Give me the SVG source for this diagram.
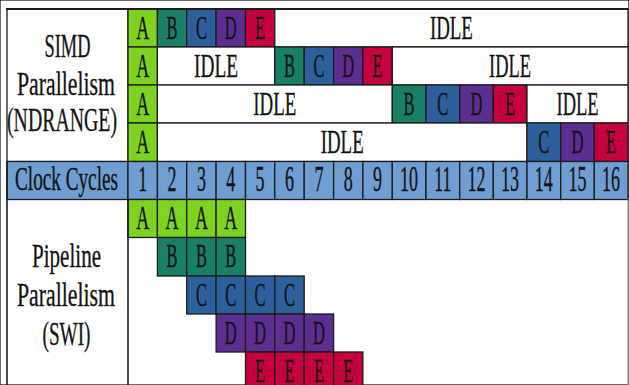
<svg xmlns="http://www.w3.org/2000/svg" width="629" height="385" viewBox="0 0 629 385">
<style>
rect{stroke:#1c1c1c;stroke-width:1.3}
.w{fill:#ffffff}
.a{fill:#7ED321}
.b{fill:#178067}
.c{fill:#2C5F9C}
.d{fill:#5C2E91}
.e{fill:#C6003E}
.k{fill:#6F9ED2}
text{font-family:"Liberation Serif","Times New Roman",serif;font-size:33px;fill:#141414;stroke:#141414;stroke-width:0.35;text-anchor:middle}
.n{font-size:35px}
.ln{stroke:#1c1c1c;stroke-width:1.6;fill:none}
</style>
<rect x="0" y="0" width="629" height="385" fill="#ffffff" stroke="none"/>

<!-- Left label cells -->
<g id="simd-label">
<rect class="w" x="7" y="9" width="121" height="152.5"/>
<text x="67.5" y="57" textLength="46" lengthAdjust="spacingAndGlyphs">SIMD</text>
<text x="66" y="94.5" textLength="98" lengthAdjust="spacingAndGlyphs">Parallelism</text>
<text x="62" y="130.5" textLength="110" lengthAdjust="spacingAndGlyphs">(NDRANGE)</text>
</g>

<!-- SIMD row 1 -->
<g id="r1">
<g id="r1-a"><rect class="a" x="128" y="9" width="29.4" height="38"/><text x="142.7" y="38.5" textLength="13" lengthAdjust="spacingAndGlyphs">A</text></g>
<g id="r1-b"><rect class="b" x="157.4" y="9" width="29.3" height="38"/><text x="172" y="38.5" textLength="11" lengthAdjust="spacingAndGlyphs">B</text></g>
<g id="r1-c"><rect class="c" x="186.7" y="9" width="29.4" height="38"/><text x="201.4" y="38.5" textLength="11" lengthAdjust="spacingAndGlyphs">C</text></g>
<g id="r1-d"><rect class="d" x="216.1" y="9" width="29.4" height="38"/><text x="230.8" y="38.5" textLength="12" lengthAdjust="spacingAndGlyphs">D</text></g>
<g id="r1-e"><rect class="e" x="245.5" y="9" width="29.3" height="38"/><text x="260.1" y="38.5" textLength="10" lengthAdjust="spacingAndGlyphs">E</text></g>
<g id="r1-idle"><rect class="w" x="274.8" y="9" width="353.2" height="38"/><text x="451.4" y="38.5" textLength="43" lengthAdjust="spacingAndGlyphs">IDLE</text></g>
</g>

<!-- SIMD row 2 -->
<g id="r2">
<g id="r2-a"><rect class="a" x="128" y="47" width="29.4" height="38"/><text x="142.7" y="76.5" textLength="13" lengthAdjust="spacingAndGlyphs">A</text></g>
<g id="r2-idle1"><rect class="w" x="157.4" y="47" width="117.4" height="38"/><text x="216.1" y="76.5" textLength="44" lengthAdjust="spacingAndGlyphs">IDLE</text></g>
<g id="r2-b"><rect class="b" x="274.8" y="47" width="29.4" height="38"/><text x="289.5" y="76.5" textLength="11" lengthAdjust="spacingAndGlyphs">B</text></g>
<g id="r2-c"><rect class="c" x="304.2" y="47" width="29.4" height="38"/><text x="318.9" y="76.5" textLength="11" lengthAdjust="spacingAndGlyphs">C</text></g>
<g id="r2-d"><rect class="d" x="333.6" y="47" width="29.3" height="38"/><text x="348.2" y="76.5" textLength="12" lengthAdjust="spacingAndGlyphs">D</text></g>
<g id="r2-e"><rect class="e" x="362.9" y="47" width="29.4" height="38"/><text x="377.6" y="76.5" textLength="10" lengthAdjust="spacingAndGlyphs">E</text></g>
<g id="r2-idle2"><rect class="w" x="392.3" y="47" width="235.7" height="38"/><text x="510.1" y="76.5" textLength="42" lengthAdjust="spacingAndGlyphs">IDLE</text></g>
</g>

<!-- SIMD row 3 -->
<g id="r3">
<g id="r3-a"><rect class="a" x="128" y="85" width="29.4" height="38"/><text x="142.7" y="114.5" textLength="13" lengthAdjust="spacingAndGlyphs">A</text></g>
<g id="r3-idle1"><rect class="w" x="157.4" y="85" width="234.9" height="38"/><text x="274.8" y="114.5" textLength="43" lengthAdjust="spacingAndGlyphs">IDLE</text></g>
<g id="r3-b"><rect class="b" x="392.3" y="85" width="33.7" height="38"/><text x="409.1" y="114.5" textLength="11" lengthAdjust="spacingAndGlyphs">B</text></g>
<g id="r3-c"><rect class="c" x="426" y="85" width="33.7" height="38"/><text x="442.8" y="114.5" textLength="11" lengthAdjust="spacingAndGlyphs">C</text></g>
<g id="r3-d"><rect class="d" x="459.7" y="85" width="33.6" height="38"/><text x="476.5" y="114.5" textLength="12" lengthAdjust="spacingAndGlyphs">D</text></g>
<g id="r3-e"><rect class="e" x="493.3" y="85" width="33.7" height="38"/><text x="510.1" y="114.5" textLength="10" lengthAdjust="spacingAndGlyphs">E</text></g>
<g id="r3-idle2"><rect class="w" x="527" y="85" width="101" height="38"/><text x="577.6" y="114.5" textLength="42" lengthAdjust="spacingAndGlyphs">IDLE</text></g>
</g>

<!-- SIMD row 4 -->
<g id="r4">
<g id="r4-a"><rect class="a" x="128" y="123" width="29.4" height="38.5"/><text x="142.7" y="152.5" textLength="13" lengthAdjust="spacingAndGlyphs">A</text></g>
<g id="r4-idle"><rect class="w" x="157.4" y="123" width="369.6" height="38.5"/><text x="342.2" y="152.5" textLength="43" lengthAdjust="spacingAndGlyphs">IDLE</text></g>
<g id="r4-c"><rect class="c" x="527" y="123" width="33.7" height="38.5"/><text x="543.8" y="152.5" textLength="11" lengthAdjust="spacingAndGlyphs">C</text></g>
<g id="r4-d"><rect class="d" x="560.7" y="123" width="33.6" height="38.5"/><text x="577.5" y="152.5" textLength="12" lengthAdjust="spacingAndGlyphs">D</text></g>
<g id="r4-e"><rect class="e" x="594.3" y="123" width="33.7" height="38.5"/><text x="611.1" y="152.5" textLength="10" lengthAdjust="spacingAndGlyphs">E</text></g>
</g>

<!-- Clock cycles row -->
<g id="clock">
<g id="clock-label"><rect class="k" x="7" y="161.5" width="121" height="38"/><text x="66.5" y="190" textLength="103" lengthAdjust="spacingAndGlyphs">Clock Cycles</text></g>
<g id="cc1"><rect class="k" x="128" y="161.5" width="29.4" height="38"/><text class="n" x="142.7" y="190.5" textLength="9" lengthAdjust="spacingAndGlyphs">1</text></g>
<g id="cc2"><rect class="k" x="157.4" y="161.5" width="29.3" height="38"/><text class="n" x="172" y="190.5" textLength="9" lengthAdjust="spacingAndGlyphs">2</text></g>
<g id="cc3"><rect class="k" x="186.7" y="161.5" width="29.4" height="38"/><text class="n" x="201.4" y="190.5" textLength="9" lengthAdjust="spacingAndGlyphs">3</text></g>
<g id="cc4"><rect class="k" x="216.1" y="161.5" width="29.4" height="38"/><text class="n" x="230.8" y="190.5" textLength="9" lengthAdjust="spacingAndGlyphs">4</text></g>
<g id="cc5"><rect class="k" x="245.5" y="161.5" width="29.3" height="38"/><text class="n" x="260.1" y="190.5" textLength="9" lengthAdjust="spacingAndGlyphs">5</text></g>
<g id="cc6"><rect class="k" x="274.8" y="161.5" width="29.4" height="38"/><text class="n" x="289.5" y="190.5" textLength="9" lengthAdjust="spacingAndGlyphs">6</text></g>
<g id="cc7"><rect class="k" x="304.2" y="161.5" width="29.4" height="38"/><text class="n" x="318.9" y="190.5" textLength="9" lengthAdjust="spacingAndGlyphs">7</text></g>
<g id="cc8"><rect class="k" x="333.6" y="161.5" width="29.3" height="38"/><text class="n" x="348.2" y="190.5" textLength="9" lengthAdjust="spacingAndGlyphs">8</text></g>
<g id="cc9"><rect class="k" x="362.9" y="161.5" width="29.4" height="38"/><text class="n" x="377.6" y="190.5" textLength="9" lengthAdjust="spacingAndGlyphs">9</text></g>
<g id="cc10"><rect class="k" x="392.3" y="161.5" width="33.7" height="38"/><text class="n" x="409.1" y="190.5" textLength="18" lengthAdjust="spacingAndGlyphs">10</text></g>
<g id="cc11"><rect class="k" x="426" y="161.5" width="33.7" height="38"/><text class="n" x="442.8" y="190.5" textLength="17" lengthAdjust="spacingAndGlyphs">11</text></g>
<g id="cc12"><rect class="k" x="459.7" y="161.5" width="33.6" height="38"/><text class="n" x="476.5" y="190.5" textLength="18" lengthAdjust="spacingAndGlyphs">12</text></g>
<g id="cc13"><rect class="k" x="493.3" y="161.5" width="33.7" height="38"/><text class="n" x="510.1" y="190.5" textLength="18" lengthAdjust="spacingAndGlyphs">13</text></g>
<g id="cc14"><rect class="k" x="527" y="161.5" width="33.7" height="38"/><text class="n" x="543.8" y="190.5" textLength="18" lengthAdjust="spacingAndGlyphs">14</text></g>
<g id="cc15"><rect class="k" x="560.7" y="161.5" width="33.6" height="38"/><text class="n" x="577.5" y="190.5" textLength="18" lengthAdjust="spacingAndGlyphs">15</text></g>
<g id="cc16"><rect class="k" x="594.3" y="161.5" width="33.7" height="38"/><text class="n" x="611.1" y="190.5" textLength="18" lengthAdjust="spacingAndGlyphs">16</text></g>
</g>

<!-- Pipeline label -->
<g id="pipe-label">
<text x="66.5" y="267" textLength="69" lengthAdjust="spacingAndGlyphs">Pipeline</text>
<text x="66" y="306" textLength="98" lengthAdjust="spacingAndGlyphs">Parallelism</text>
<text x="66.5" y="345" textLength="48" lengthAdjust="spacingAndGlyphs">(SWI)</text>
</g>

<!-- Pipeline stages -->
<g id="pipe-a">
<rect class="a" x="128" y="199.5" width="29.4" height="38"/><text x="142.7" y="229" textLength="13" lengthAdjust="spacingAndGlyphs">A</text>
<rect class="a" x="157.4" y="199.5" width="29.3" height="38"/><text x="172" y="229" textLength="13" lengthAdjust="spacingAndGlyphs">A</text>
<rect class="a" x="186.7" y="199.5" width="29.4" height="38"/><text x="201.4" y="229" textLength="13" lengthAdjust="spacingAndGlyphs">A</text>
<rect class="a" x="216.1" y="199.5" width="29.4" height="38"/><text x="230.8" y="229" textLength="13" lengthAdjust="spacingAndGlyphs">A</text>
</g>
<g id="pipe-b">
<rect class="b" x="157.4" y="237.5" width="29.3" height="38.5"/><text x="172" y="267" textLength="11" lengthAdjust="spacingAndGlyphs">B</text>
<rect class="b" x="186.7" y="237.5" width="29.4" height="38.5"/><text x="201.4" y="267" textLength="11" lengthAdjust="spacingAndGlyphs">B</text>
<rect class="b" x="216.1" y="237.5" width="29.4" height="38.5"/><text x="230.8" y="267" textLength="11" lengthAdjust="spacingAndGlyphs">B</text>
</g>
<g id="pipe-c">
<rect class="c" x="186.7" y="276" width="29.4" height="38"/><text x="201.4" y="305.5" textLength="11" lengthAdjust="spacingAndGlyphs">C</text>
<rect class="c" x="216.1" y="276" width="29.4" height="38"/><text x="230.8" y="305.5" textLength="11" lengthAdjust="spacingAndGlyphs">C</text>
<rect class="c" x="245.5" y="276" width="29.3" height="38"/><text x="260.1" y="305.5" textLength="11" lengthAdjust="spacingAndGlyphs">C</text>
<rect class="c" x="274.8" y="276" width="29.4" height="38"/><text x="289.5" y="305.5" textLength="11" lengthAdjust="spacingAndGlyphs">C</text>
</g>
<g id="pipe-d">
<rect class="d" x="216.1" y="314" width="29.4" height="38"/><text x="230.8" y="343.5" textLength="12" lengthAdjust="spacingAndGlyphs">D</text>
<rect class="d" x="245.5" y="314" width="29.3" height="38"/><text x="260.1" y="343.5" textLength="12" lengthAdjust="spacingAndGlyphs">D</text>
<rect class="d" x="274.8" y="314" width="29.4" height="38"/><text x="289.5" y="343.5" textLength="12" lengthAdjust="spacingAndGlyphs">D</text>
<rect class="d" x="304.2" y="314" width="29.4" height="38"/><text x="318.9" y="343.5" textLength="12" lengthAdjust="spacingAndGlyphs">D</text>
</g>
<g id="pipe-e">
<rect class="e" x="245.5" y="352" width="29.3" height="40"/><text x="260.1" y="381.5" textLength="10" lengthAdjust="spacingAndGlyphs">E</text>
<rect class="e" x="274.8" y="352" width="29.4" height="40"/><text x="289.5" y="381.5" textLength="10" lengthAdjust="spacingAndGlyphs">E</text>
<rect class="e" x="304.2" y="352" width="29.4" height="40"/><text x="318.9" y="381.5" textLength="10" lengthAdjust="spacingAndGlyphs">E</text>
<rect class="e" x="333.6" y="352" width="29.3" height="40"/><text x="348.2" y="381.5" textLength="10" lengthAdjust="spacingAndGlyphs">E</text>
</g>

<!-- Frame lines -->
<g id="frame">
<line class="ln" x1="7" y1="161.5" x2="7" y2="385"/>
<line class="ln" x1="128" y1="199.5" x2="128" y2="385"/>
<line x1="628" y1="199.5" x2="628" y2="385" stroke="#9a9a9a" stroke-width="1.3"/>
<line x1="6" y1="9" x2="628.5" y2="9" stroke="#1c1c1c" stroke-width="2.2"/>
</g>
</svg>
